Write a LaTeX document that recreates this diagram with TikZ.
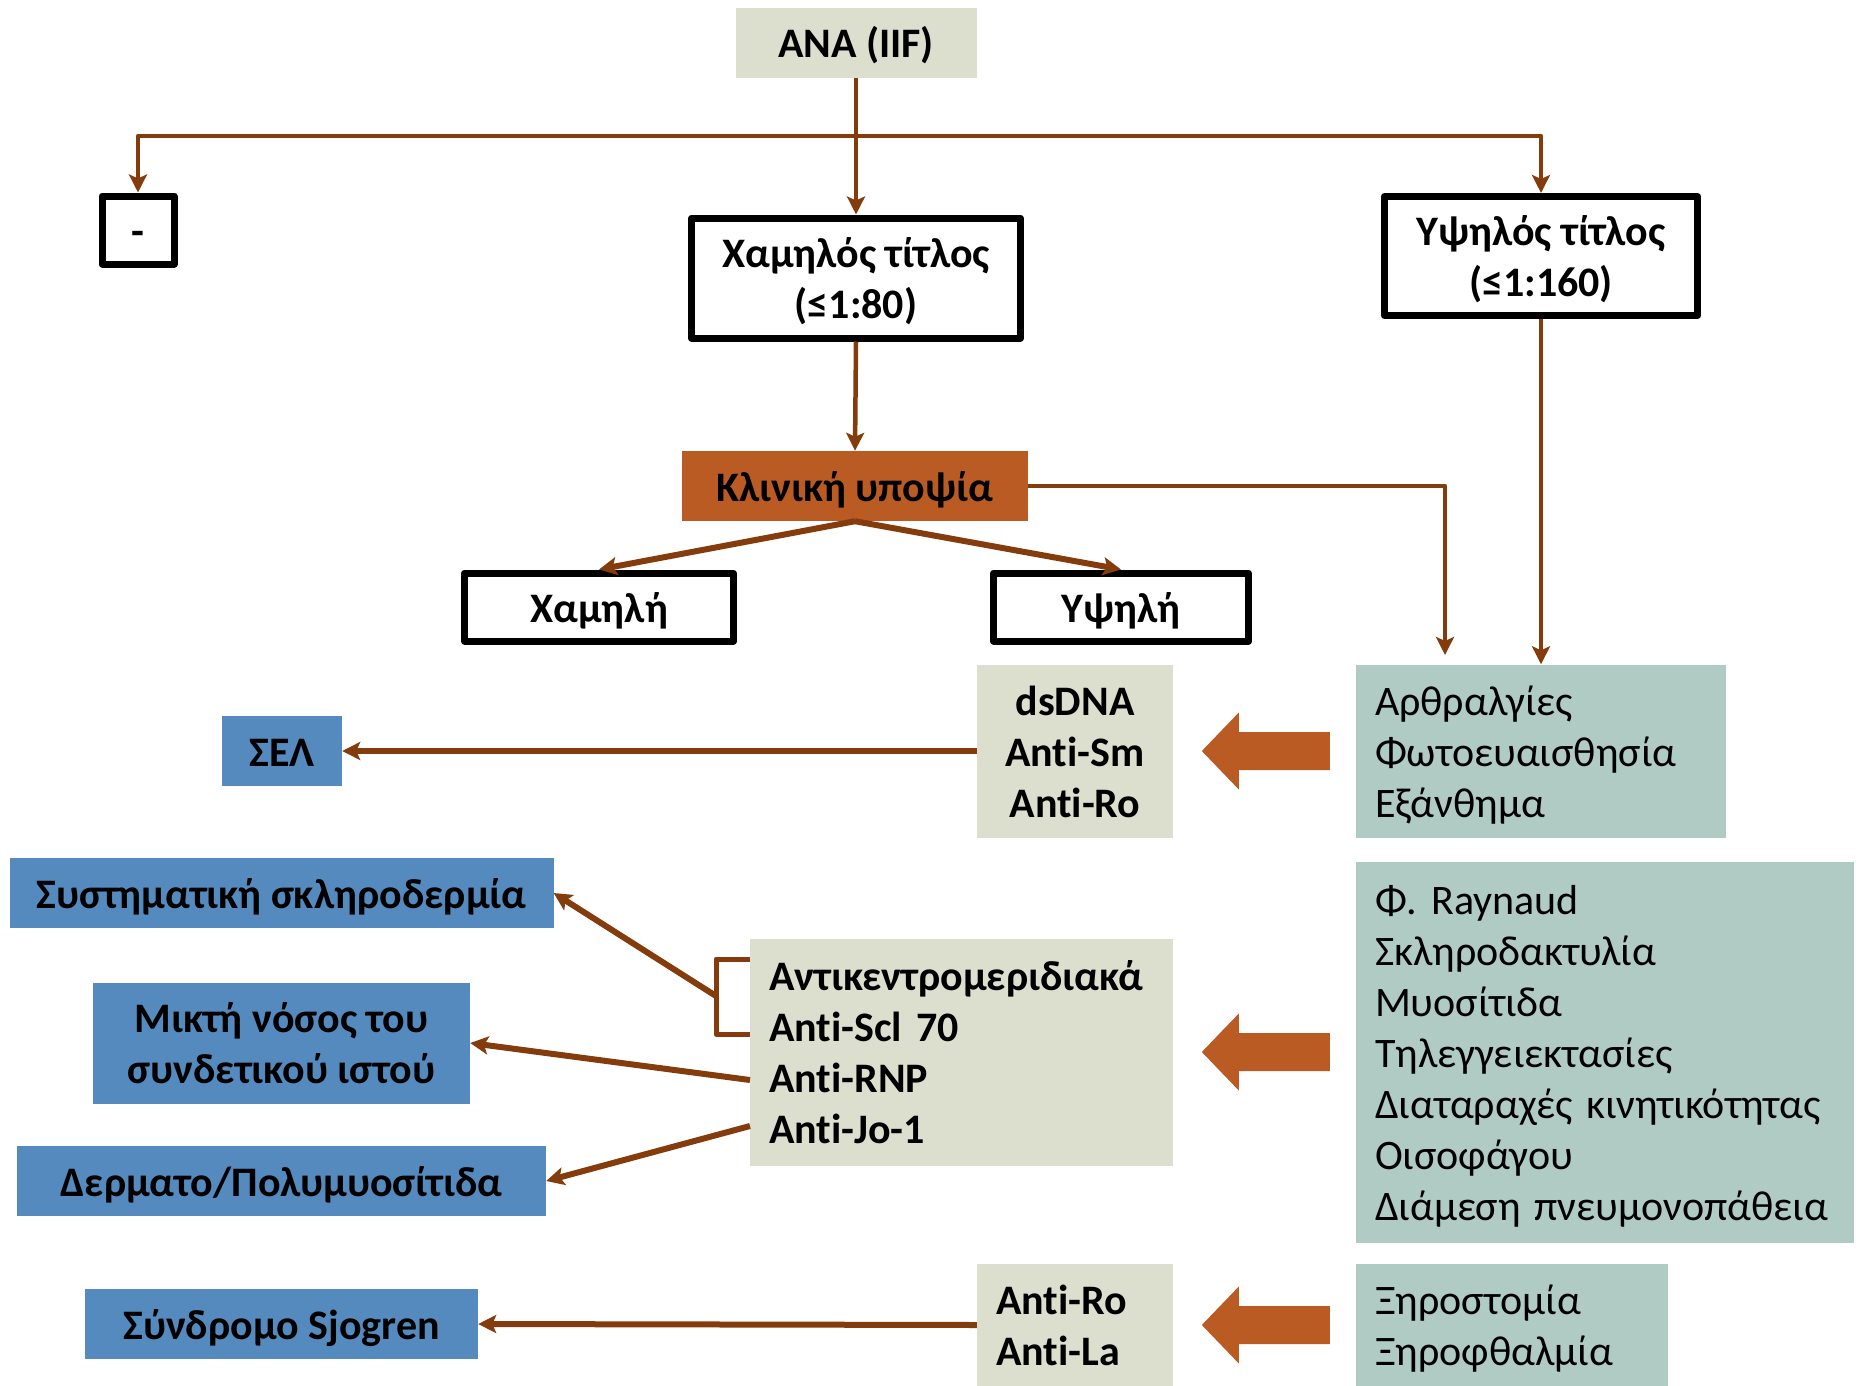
\documentclass[tikz,border=0pt]{standalone}
\usepackage{fontspec}
\setmainfont{Carlito}[Ligatures=NoCommon]
\usepackage{xcolor}
\usepackage{tikz}
\usetikzlibrary{arrows.meta,calc}

\definecolor{linebrown}{RGB}{132,60,12}
\definecolor{boxgrey}{RGB}{220,223,206}
\definecolor{boxgreen}{RGB}{176,203,196}
\definecolor{boxblue}{RGB}{84,138,190}
\definecolor{boxorange}{RGB}{186,91,36}
\newcommand{\bigtext}{\fontsize{42}{51}\selectfont}
\newcommand{\ps}{\rule[-10.5pt]{0pt}{51pt}}

\begin{document}
\begin{tikzpicture}[x=1pt,y=-1pt,line join=round,
  every node/.style={font=\bigtext\bfseries,inner sep=0pt},
  dims/.style 2 args={minimum width=#1pt,minimum height=#2pt},
  frame/.style={draw=black,line width=7pt,fill=white,align=center},
  abbox/.style={fill=boxgrey,align=center},
  listbox/.style={align=left,inner xsep=19pt},
  symbox/.style={fill=boxgreen,align=left,inner xsep=19pt,font=\bigtext},
  disbox/.style={fill=boxblue,align=center},
  link/.style={draw=linebrown,line width=4.5pt,-{Stealth[length=18pt,width=18pt,inset=4pt]}},
  heavy/.style={line width=6pt}]
  \useasboundingbox (0,0) rectangle (1860,1386);

  % titre
  \node[abbox,dims={241}{70}] (ana) at (856,43) {\ps ANA (IIF)};
  \node[frame,dims={72}{68}] (neg) at (138,230) {\ps -};
  \node[frame,dims={329}{120}] (lowtit) at (856,278) {\ps Χαμηλός τίτλος\\(≤1:80)\ps};
  \node[frame,dims={313}{119}] (hightit) at (1541,256) {\ps Υψηλός τίτλος\\(≤1:160)\ps};
  \node[fill=boxorange,dims={346}{70}] (clin) at (855,486) {\ps Κλινική υποψία};
  \node[frame,dims={269}{68}] (lowsusp) at (599,607) {\ps Χαμηλή};
  \node[frame,dims={255}{68}] (highsusp) at (1121,607) {\ps Υψηλή};

  % antibodies
  \node[abbox,dims={196}{173}] (ab1) at (1075,751) {\ps dsDNA\\Anti-Sm\\Anti-Ro\ps};
  \node[abbox,listbox,text width=385pt,dims={423}{227}] (ab2) at (961.5,1052)
    {\ps Αντικεντρομεριδιακά\\Anti-Scl 70\\Anti-RNP\\Anti-Jo-1\ps};
  \node[abbox,listbox,text width=158pt,dims={196}{122}] (ab3) at (1075,1325) {\ps Anti-Ro\\Anti-La\ps};

  % symptoms
  \node[symbox,text width=332pt,dims={370}{173}] (sym1) at (1541,751)
    {\ps Αρθραλγίες\\Φωτοευαισθησία\\Εξάνθημα\ps};
  \node[symbox,text width=460pt,dims={498}{381}] (sym2) at (1605,1052)
    {\ps Φ. Raynaud\\Σκληροδακτυλία\\Μυοσίτιδα\\Τηλεγγειεκτασίες\\Διαταραχές κινητικότητας\\Οισοφάγου\\Διάμεση πνευμονοπάθεια\ps};
  \node[symbox,text width=274pt,dims={312}{122}] (sym3) at (1512,1325) {\ps Ξηροστομία\\Ξηροφθαλμία\ps};

  % diseases
  \node[disbox,dims={120}{70}] (sel) at (282,751) {\ps ΣΕΛ};
  \node[disbox,dims={544}{70}] (sysc) at (281.5,893) {\ps Συστηματική σκληροδερμία};
  \node[disbox,dims={377}{121}] (mctd) at (281.5,1043) {\ps Μικτή νόσος του\\συνδετικού ιστού\ps};
  \node[disbox,dims={529}{70}] (dm) at (281.5,1181) {\ps Δερματο/Πολυμυοσίτιδα};
  \node[disbox,dims={393}{70}] (sjo) at (281.5,1324) {\ps Σύνδρομο Sjogren};

  \coordinate (split) at (856,136);
  \coordinate (clinend) at (1445,655);
  \coordinate (brtop) at (750,959);
  \coordinate (brmid) at (716,996);
  \coordinate (brbot) at (750,1034);
  \coordinate (rnp) at (750,1080);
  \coordinate (jo) at (750,1126);

  \draw[link] (ana.south) -- (lowtit.north);
  \draw[link] (split) -| (neg.north);
  \draw[link] (split) -| (hightit.north);
  \draw[link] (lowtit.south) -- (clin.north);
  \draw[link,heavy] (clin.south) -- (lowsusp.north);
  \draw[link,heavy] (clin.south) -- (highsusp.north);
  \draw[link] (clin.east) -| (clinend);
  \draw[link] (hightit.south) -- (hightit.south |- sym1.north);

  \draw[link,heavy] (ab1.west) -- (sel.east);
  \draw[draw=linebrown,line width=5pt] (brtop) -| (brmid) |- (brbot);
  \draw[link,heavy] (brmid) -- (sysc.east);
  \draw[link,heavy] (rnp) -- (mctd.east);
  \draw[link,heavy] (jo) -- (dm.east);
  \draw[link,heavy] (ab3.west) -- (sjo.east);

  \foreach \s in {sym1,sym2,sym3} {
    \fill[boxorange] ($(\s.west)+(-26,-19)$) -- ++(-91,0) -- ++(0,-19.5) -- ++(-37,38.5)
      -- ++(37,38.5) -- ++(0,-19.5) -- ++(91,0) -- cycle;
  }
\end{tikzpicture}
\end{document}
